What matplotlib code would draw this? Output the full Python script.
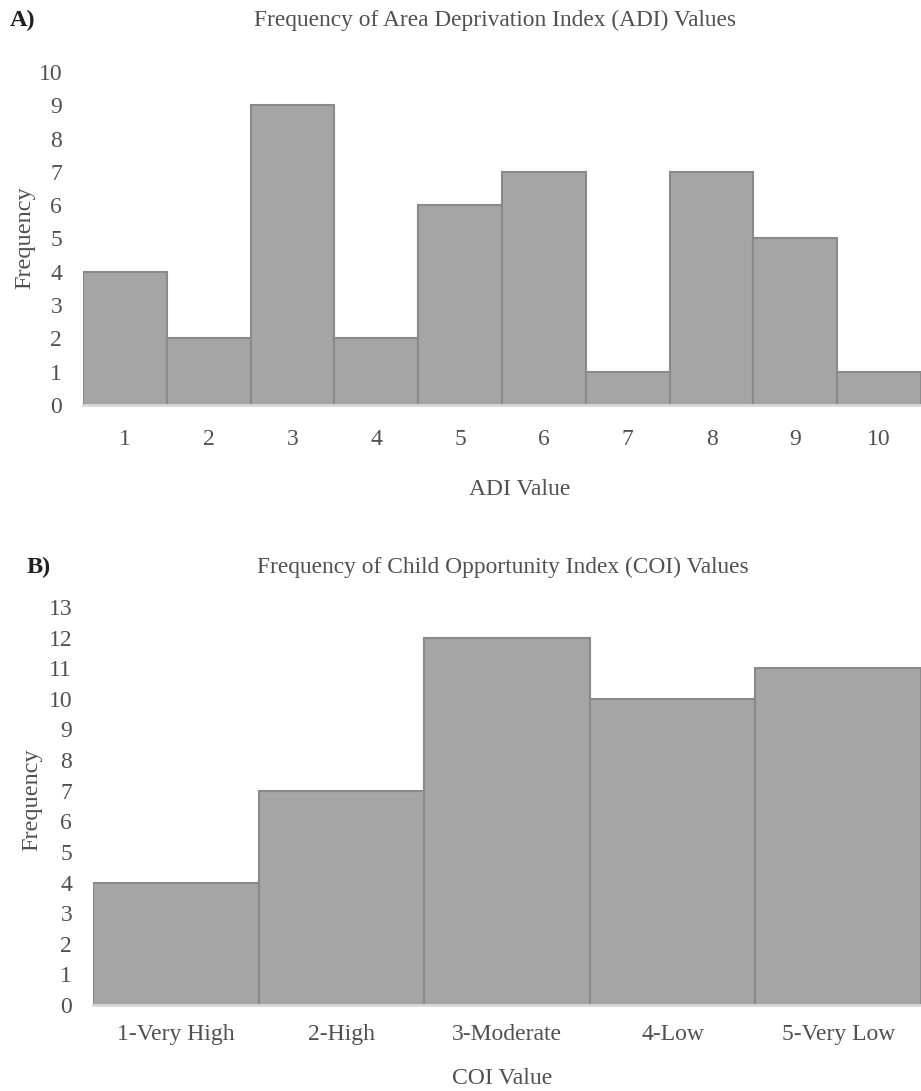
import matplotlib.pyplot as plt

# data
adi_values = [1, 2, 3, 4, 5, 6, 7, 8, 9, 10]
adi_freq = [4, 2, 9, 2, 6, 7, 1, 7, 5, 1]

coi_labels = ["1-Very High", "2-High", "3-Moderate", "4-Low", "5-Very Low"]
coi_freq = [4, 7, 12, 10, 11]

plt.rcParams["font.family"] = ["Liberation Serif", "DejaVu Serif"]

W, H = 921, 1091
fig = plt.figure(figsize=(W / 100, H / 100), dpi=100)

bar_color = "#a5a5a5"
edge_color = "#8a8a8a"
text_color = "#505050"
fs = 17


def px_axes(left, top, right, bottom):
    return fig.add_axes([left / W, 1 - bottom / H, (right - left) / W, (bottom - top) / H])


def style(ax, ymax, xpad, ypad):
    for s in ["top", "right", "left"]:
        ax.spines[s].set_visible(False)
    ax.spines["bottom"].set_color("#d9d9d9")
    ax.spines["bottom"].set_linewidth(2)
    ax.set_ylim(0, ymax)
    ax.set_yticks(range(0, ymax + 1))
    ax.tick_params(axis="both", length=0, labelsize=fs, colors=text_color)
    ax.tick_params(axis="x", pad=xpad)
    ax.tick_params(axis="y", pad=ypad)


# Panel A
ax1 = px_axes(83, 72, 921, 405)
ax1.bar(adi_values, adi_freq, width=1.0, color=bar_color, edgecolor=edge_color, linewidth=1.5)
ax1.set_xlim(0.5, 10.5)
ax1.set_xticks(adi_values)
style(ax1, 10, 17.5, 15)

fig.text(10 / W, 1 - 20 / H, "A)", fontsize=17.5, fontweight="bold", va="center", ha="left", color="#202020")
fig.text(495 / W, 1 - 20 / H, "Frequency of Area Deprivation Index (ADI) Values", fontsize=16.8,
         va="center", ha="center", color=text_color)
fig.text(520 / W, 1 - 490 / H, "ADI Value", fontsize=fs, va="center", ha="center", color=text_color)
fig.text(25 / W, 1 - 238 / H, "Frequency", fontsize=17.5, rotation=90, va="center", ha="center", color=text_color)

# Panel B
ax2 = px_axes(93, 607, 921, 1005)
ax2.bar(range(len(coi_labels)), coi_freq, width=1.0, color=bar_color, edgecolor=edge_color, linewidth=1.5)
ax2.set_xlim(-0.5, 4.5)
ax2.set_xticks(range(len(coi_labels)))
ax2.set_xticklabels(coi_labels)
style(ax2, 13, 13.5, 15)

fig.text(27 / W, 1 - 567 / H, "B)", fontsize=17.5, fontweight="bold", va="center", ha="left", color="#202020")
fig.text(503 / W, 1 - 567 / H, "Frequency of Child Opportunity Index (COI) Values", fontsize=16.8,
         va="center", ha="center", color=text_color)
fig.text(502 / W, 1 - 1078 / H, "COI Value", fontsize=fs, va="center", ha="center", color=text_color)
fig.text(32 / W, 1 - 800 / H, "Frequency", fontsize=17.5, rotation=90, va="center", ha="center", color=text_color)

fig.savefig("out.png", dpi=100)
